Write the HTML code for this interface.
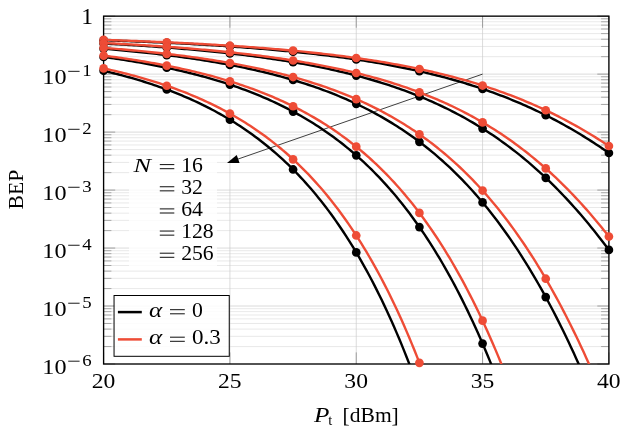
<!DOCTYPE html>
<html><head><meta charset="utf-8"><title>BEP</title>
<style>html,body{margin:0;padding:0;background:#fff}svg{display:block;will-change:transform}text{font-family:"Liberation Serif",serif;fill:#000}</style></head><body>
<svg width="630" height="435" viewBox="0 0 630 435">
<rect width="630" height="435" fill="#fff"/>
<defs><clipPath id="c"><rect x="103.60" y="16.15" width="505.30" height="347.85"/></clipPath></defs>
<path d="M103.60 56.67H608.90M103.60 46.46H608.90M103.60 39.22H608.90M103.60 33.60H608.90M103.60 29.01H608.90M103.60 25.13H608.90M103.60 21.77H608.90M103.60 18.80H608.90M103.60 114.65H608.90M103.60 104.44H608.90M103.60 97.20H608.90M103.60 91.58H608.90M103.60 86.99H608.90M103.60 83.11H608.90M103.60 79.74H608.90M103.60 76.78H608.90M103.60 172.62H608.90M103.60 162.41H608.90M103.60 155.17H608.90M103.60 149.55H608.90M103.60 144.96H608.90M103.60 141.08H608.90M103.60 137.72H608.90M103.60 134.75H608.90M103.60 230.60H608.90M103.60 220.39H608.90M103.60 213.15H608.90M103.60 207.53H608.90M103.60 202.94H608.90M103.60 199.06H608.90M103.60 195.69H608.90M103.60 192.73H608.90M103.60 288.57H608.90M103.60 278.36H608.90M103.60 271.12H608.90M103.60 265.50H608.90M103.60 260.91H608.90M103.60 257.03H608.90M103.60 253.67H608.90M103.60 250.70H608.90M103.60 346.55H608.90M103.60 336.34H608.90M103.60 329.10H608.90M103.60 323.48H608.90M103.60 318.89H608.90M103.60 315.01H608.90M103.60 311.64H608.90M103.60 308.68H608.90" stroke="#dfdfdf" stroke-width="0.7" fill="none"/>
<path d="M103.60 74.12H608.90M103.60 132.10H608.90M103.60 190.08H608.90M103.60 248.05H608.90M103.60 306.02H608.90M229.92 16.15V364.00M356.25 16.15V364.00M482.57 16.15V364.00" stroke="#cbcbcb" stroke-width="0.7" fill="none"/>
<path d="M103.60 56.67h7.8M608.90 56.67h-7.8M103.60 46.46h7.8M608.90 46.46h-7.8M103.60 39.22h7.8M608.90 39.22h-7.8M103.60 33.60h7.8M608.90 33.60h-7.8M103.60 29.01h7.8M608.90 29.01h-7.8M103.60 25.13h7.8M608.90 25.13h-7.8M103.60 21.77h7.8M608.90 21.77h-7.8M103.60 18.80h7.8M608.90 18.80h-7.8M103.60 114.65h7.8M608.90 114.65h-7.8M103.60 104.44h7.8M608.90 104.44h-7.8M103.60 97.20h7.8M608.90 97.20h-7.8M103.60 91.58h7.8M608.90 91.58h-7.8M103.60 86.99h7.8M608.90 86.99h-7.8M103.60 83.11h7.8M608.90 83.11h-7.8M103.60 79.74h7.8M608.90 79.74h-7.8M103.60 76.78h7.8M608.90 76.78h-7.8M103.60 172.62h7.8M608.90 172.62h-7.8M103.60 162.41h7.8M608.90 162.41h-7.8M103.60 155.17h7.8M608.90 155.17h-7.8M103.60 149.55h7.8M608.90 149.55h-7.8M103.60 144.96h7.8M608.90 144.96h-7.8M103.60 141.08h7.8M608.90 141.08h-7.8M103.60 137.72h7.8M608.90 137.72h-7.8M103.60 134.75h7.8M608.90 134.75h-7.8M103.60 230.60h7.8M608.90 230.60h-7.8M103.60 220.39h7.8M608.90 220.39h-7.8M103.60 213.15h7.8M608.90 213.15h-7.8M103.60 207.53h7.8M608.90 207.53h-7.8M103.60 202.94h7.8M608.90 202.94h-7.8M103.60 199.06h7.8M608.90 199.06h-7.8M103.60 195.69h7.8M608.90 195.69h-7.8M103.60 192.73h7.8M608.90 192.73h-7.8M103.60 288.57h7.8M608.90 288.57h-7.8M103.60 278.36h7.8M608.90 278.36h-7.8M103.60 271.12h7.8M608.90 271.12h-7.8M103.60 265.50h7.8M608.90 265.50h-7.8M103.60 260.91h7.8M608.90 260.91h-7.8M103.60 257.03h7.8M608.90 257.03h-7.8M103.60 253.67h7.8M608.90 253.67h-7.8M103.60 250.70h7.8M608.90 250.70h-7.8M103.60 346.55h7.8M608.90 346.55h-7.8M103.60 336.34h7.8M608.90 336.34h-7.8M103.60 329.10h7.8M608.90 329.10h-7.8M103.60 323.48h7.8M608.90 323.48h-7.8M103.60 318.89h7.8M608.90 318.89h-7.8M103.60 315.01h7.8M608.90 315.01h-7.8M103.60 311.64h7.8M608.90 311.64h-7.8M103.60 308.68h7.8M608.90 308.68h-7.8" stroke="#8a8a8a" stroke-width="0.7" fill="none"/>
<path d="M103.60 16.15h11.6M608.90 16.15h-11.6M103.60 74.12h11.6M608.90 74.12h-11.6M103.60 132.10h11.6M608.90 132.10h-11.6M103.60 190.08h11.6M608.90 190.08h-11.6M103.60 248.05h11.6M608.90 248.05h-11.6M103.60 306.02h11.6M608.90 306.02h-11.6M103.60 364.00h11.6M608.90 364.00h-11.6M103.60 16.15v11.6M103.60 364.00v-11.6M229.92 16.15v11.6M229.92 364.00v-11.6M356.25 16.15v11.6M356.25 364.00v-11.6M482.57 16.15v11.6M482.57 364.00v-11.6M608.90 16.15v11.6M608.90 364.00v-11.6" stroke="#808080" stroke-width="0.7" fill="none"/>
<rect x="129" y="156" width="88" height="110" fill="#fff" fill-opacity="0.8"/>
<path d="M482.57 74.12L236.26 159.68" stroke="#000" stroke-width="0.75" fill="none"/>
<path d="M227.00 162.90L236.74 154.97L239.56 163.09Z" fill="#000"/>
<rect x="103.60" y="16.15" width="505.30" height="347.85" fill="none" stroke="#000" stroke-width="1.35"/>
<path d="M103.60 40.23L106.13 40.32L108.65 40.41L111.18 40.49L113.71 40.58L116.23 40.67L118.76 40.76L121.29 40.86L123.81 40.95L126.34 41.05L128.87 41.14L131.39 41.24L133.92 41.34L136.44 41.44L138.97 41.54L141.50 41.65L144.02 41.75L146.55 41.86L149.08 41.97L151.60 42.08L154.13 42.19L156.66 42.30L159.18 42.41L161.71 42.53L164.24 42.65L166.76 42.77L169.29 42.89L171.82 43.01L174.34 43.14L176.87 43.26L179.40 43.39L181.92 43.52L184.45 43.65L186.97 43.79L189.50 43.92L192.03 44.06L194.55 44.20L197.08 44.34L199.61 44.49L202.13 44.63L204.66 44.78L207.19 44.93L209.71 45.09L212.24 45.24L214.77 45.40L217.29 45.56L219.82 45.72L222.35 45.89L224.87 46.05L227.40 46.22L229.93 46.40L232.45 46.57L234.98 46.75L237.50 46.93L240.03 47.11L242.56 47.30L245.08 47.49L247.61 47.68L250.14 47.87L252.66 48.07L255.19 48.27L257.72 48.48L260.24 48.68L262.77 48.89L265.30 49.11L267.82 49.32L270.35 49.54L272.88 49.77L275.40 49.99L277.93 50.22L280.46 50.46L282.98 50.69L285.51 50.94L288.03 51.18L290.56 51.43L293.09 51.68L295.61 51.94L298.14 52.20L300.67 52.47L303.19 52.73L305.72 53.01L308.25 53.29L310.77 53.57L313.30 53.86L315.83 54.15L318.35 54.44L320.88 54.74L323.41 55.05L325.93 55.36L328.46 55.68L330.99 56.00L333.51 56.32L336.04 56.65L338.56 56.99L341.09 57.33L343.62 57.68L346.14 58.03L348.67 58.39L351.20 58.76L353.72 59.13L356.25 59.50L358.78 59.89L361.30 60.28L363.83 60.67L366.36 61.07L368.88 61.48L371.41 61.90L373.94 62.32L376.46 62.75L378.99 63.19L381.52 63.63L384.04 64.08L386.57 64.54L389.09 65.00L391.62 65.48L394.15 65.96L396.67 66.45L399.20 66.95L401.73 67.45L404.25 67.97L406.78 68.49L409.31 69.02L411.83 69.56L414.36 70.11L416.89 70.67L419.41 71.23L421.94 71.81L424.47 72.40L426.99 72.99L429.52 73.60L432.05 74.21L434.57 74.84L437.10 75.48L439.62 76.12L442.15 76.78L444.68 77.45L447.20 78.13L449.73 78.82L452.26 79.52L454.78 80.24L457.31 80.96L459.84 81.70L462.36 82.45L464.89 83.21L467.42 83.98L469.94 84.77L472.47 85.57L475.00 86.38L477.52 87.21L480.05 88.05L482.58 88.90L485.10 89.77L487.63 90.65L490.15 91.55L492.68 92.46L495.21 93.38L497.73 94.32L500.26 95.27L502.79 96.24L505.31 97.23L507.84 98.22L510.37 99.24L512.89 100.27L515.42 101.32L517.95 102.38L520.47 103.46L523.00 104.56L525.53 105.68L528.05 106.81L530.58 107.96L533.11 109.12L535.63 110.31L538.16 111.51L540.68 112.73L543.21 113.96L545.74 115.22L548.26 116.49L550.79 117.79L553.32 119.10L555.84 120.43L558.37 121.78L560.90 123.15L563.42 124.54L565.95 125.95L568.48 127.38L571.00 128.82L573.53 130.29L576.06 131.78L578.58 133.29L581.11 134.81L583.64 136.36L586.16 137.93L588.69 139.52L591.21 141.13L593.74 142.76L596.27 144.41L598.79 146.09L601.32 147.78L603.85 149.49L606.37 151.23L608.90 152.98" stroke="#000000" stroke-width="2.40" fill="none" stroke-linejoin="round" clip-path="url(#c)"/>
<circle cx="103.60" cy="40.23" r="4.35" fill="#000000"/>
<circle cx="166.76" cy="42.77" r="4.35" fill="#000000"/>
<circle cx="229.92" cy="46.40" r="4.35" fill="#000000"/>
<circle cx="293.09" cy="51.68" r="4.35" fill="#000000"/>
<circle cx="356.25" cy="59.50" r="4.35" fill="#000000"/>
<circle cx="419.41" cy="71.23" r="4.35" fill="#000000"/>
<circle cx="482.57" cy="88.90" r="4.35" fill="#000000"/>
<circle cx="545.74" cy="115.22" r="4.35" fill="#000000"/>
<circle cx="608.90" cy="152.98" r="4.35" fill="#000000"/>
<path d="M103.60 39.90L106.13 39.98L108.65 40.06L111.18 40.15L113.71 40.23L116.23 40.32L118.76 40.40L121.29 40.49L123.81 40.58L126.34 40.67L128.87 40.76L131.39 40.85L133.92 40.95L136.44 41.04L138.97 41.14L141.50 41.24L144.02 41.34L146.55 41.44L149.08 41.54L151.60 41.64L154.13 41.75L156.66 41.85L159.18 41.96L161.71 42.07L164.24 42.18L166.76 42.29L169.29 42.41L171.82 42.53L174.34 42.64L176.87 42.76L179.40 42.88L181.92 43.01L184.45 43.13L186.97 43.26L189.50 43.39L192.03 43.52L194.55 43.65L197.08 43.78L199.61 43.92L202.13 44.06L204.66 44.20L207.19 44.34L209.71 44.48L212.24 44.63L214.77 44.78L217.29 44.93L219.82 45.08L222.35 45.24L224.87 45.39L227.40 45.55L229.93 45.72L232.45 45.88L234.98 46.05L237.50 46.22L240.03 46.39L242.56 46.56L245.08 46.74L247.61 46.92L250.14 47.11L252.66 47.29L255.19 47.48L257.72 47.67L260.24 47.87L262.77 48.06L265.30 48.26L267.82 48.47L270.35 48.67L272.88 48.88L275.40 49.10L277.93 49.31L280.46 49.53L282.98 49.76L285.51 49.98L288.03 50.21L290.56 50.45L293.09 50.68L295.61 50.93L298.14 51.17L300.67 51.42L303.19 51.67L305.72 51.93L308.25 52.19L310.77 52.45L313.30 52.72L315.83 53.00L318.35 53.27L320.88 53.56L323.41 53.84L325.93 54.14L328.46 54.43L330.99 54.73L333.51 55.04L336.04 55.35L338.56 55.66L341.09 55.98L343.62 56.31L346.14 56.64L348.67 56.98L351.20 57.32L353.72 57.67L356.25 58.02L358.78 58.38L361.30 58.74L363.83 59.11L366.36 59.49L368.88 59.87L371.41 60.26L373.94 60.66L376.46 61.06L378.99 61.47L381.52 61.88L384.04 62.30L386.57 62.73L389.09 63.17L391.62 63.61L394.15 64.06L396.67 64.52L399.20 64.99L401.73 65.46L404.25 65.94L406.78 66.43L409.31 66.93L411.83 67.43L414.36 67.94L416.89 68.47L419.41 69.00L421.94 69.54L424.47 70.09L426.99 70.64L429.52 71.21L432.05 71.79L434.57 72.37L437.10 72.97L439.62 73.57L442.15 74.19L444.68 74.81L447.20 75.45L449.73 76.10L452.26 76.75L454.78 77.42L457.31 78.10L459.84 78.79L462.36 79.49L464.89 80.21L467.42 80.93L469.94 81.67L472.47 82.42L475.00 83.18L477.52 83.95L480.05 84.74L482.58 85.54L485.10 86.35L487.63 87.18L490.15 88.02L492.68 88.87L495.21 89.73L497.73 90.61L500.26 91.51L502.79 92.42L505.31 93.34L507.84 94.28L510.37 95.23L512.89 96.20L515.42 97.19L517.95 98.18L520.47 99.20L523.00 100.23L525.53 101.28L528.05 102.34L530.58 103.42L533.11 104.52L535.63 105.63L538.16 106.76L540.68 107.91L543.21 109.07L545.74 110.26L548.26 111.46L550.79 112.68L553.32 113.91L555.84 115.17L558.37 116.44L560.90 117.74L563.42 119.05L565.95 120.38L568.48 121.73L571.00 123.09L573.53 124.48L576.06 125.89L578.58 127.32L581.11 128.76L583.64 130.23L586.16 131.72L588.69 133.23L591.21 134.75L593.74 136.30L596.27 137.87L598.79 139.46L601.32 141.07L603.85 142.70L606.37 144.35L608.90 146.02" stroke="#ee4c36" stroke-width="2.40" fill="none" stroke-linejoin="round" clip-path="url(#c)"/>
<circle cx="103.60" cy="39.90" r="4.35" fill="#ee4c36"/>
<circle cx="166.76" cy="42.29" r="4.35" fill="#ee4c36"/>
<circle cx="229.92" cy="45.72" r="4.35" fill="#ee4c36"/>
<circle cx="293.09" cy="50.68" r="4.35" fill="#ee4c36"/>
<circle cx="356.25" cy="58.02" r="4.35" fill="#ee4c36"/>
<circle cx="419.41" cy="69.00" r="4.35" fill="#ee4c36"/>
<circle cx="482.57" cy="85.54" r="4.35" fill="#ee4c36"/>
<circle cx="545.74" cy="110.26" r="4.35" fill="#ee4c36"/>
<circle cx="608.90" cy="146.02" r="4.35" fill="#ee4c36"/>
<path d="M103.60 43.53L106.13 43.66L108.65 43.80L111.18 43.93L113.71 44.07L116.23 44.21L118.76 44.36L121.29 44.50L123.81 44.65L126.34 44.80L128.87 44.95L131.39 45.10L133.92 45.26L136.44 45.42L138.97 45.58L141.50 45.74L144.02 45.91L146.55 46.08L149.08 46.25L151.60 46.42L154.13 46.60L156.66 46.77L159.18 46.96L161.71 47.14L164.24 47.33L166.76 47.52L169.29 47.71L171.82 47.91L174.34 48.11L176.87 48.31L179.40 48.51L181.92 48.72L184.45 48.93L186.97 49.15L189.50 49.37L192.03 49.59L194.55 49.81L197.08 50.04L199.61 50.28L202.13 50.51L204.66 50.75L207.19 51.00L209.71 51.24L212.24 51.50L214.77 51.75L217.29 52.01L219.82 52.28L222.35 52.54L224.87 52.82L227.40 53.09L229.93 53.38L232.45 53.66L234.98 53.95L237.50 54.25L240.03 54.55L242.56 54.86L245.08 55.17L247.61 55.48L250.14 55.80L252.66 56.13L255.19 56.46L257.72 56.80L260.24 57.14L262.77 57.49L265.30 57.84L267.82 58.20L270.35 58.57L272.88 58.94L275.40 59.32L277.93 59.71L280.46 60.10L282.98 60.49L285.51 60.90L288.03 61.31L290.56 61.73L293.09 62.16L295.61 62.59L298.14 63.03L300.67 63.48L303.19 63.93L305.72 64.40L308.25 64.87L310.77 65.35L313.30 65.84L315.83 66.33L318.35 66.84L320.88 67.35L323.41 67.87L325.93 68.41L328.46 68.95L330.99 69.50L333.51 70.06L336.04 70.63L338.56 71.21L341.09 71.80L343.62 72.40L346.14 73.01L348.67 73.63L351.20 74.26L353.72 74.91L356.25 75.56L358.78 76.23L361.30 76.91L363.83 77.60L366.36 78.30L368.88 79.02L371.41 79.74L373.94 80.48L376.46 81.24L378.99 82.00L381.52 82.79L384.04 83.58L386.57 84.39L389.09 85.21L391.62 86.05L394.15 86.90L396.67 87.77L399.20 88.66L401.73 89.56L404.25 90.47L406.78 91.40L409.31 92.35L411.83 93.32L414.36 94.30L416.89 95.30L419.41 96.32L421.94 97.35L424.47 98.41L426.99 99.48L429.52 100.57L432.05 101.68L434.57 102.82L437.10 103.97L439.62 105.14L442.15 106.33L444.68 107.55L447.20 108.78L449.73 110.04L452.26 111.32L454.78 112.62L457.31 113.95L459.84 115.30L462.36 116.67L464.89 118.06L467.42 119.49L469.94 120.93L472.47 122.40L475.00 123.90L477.52 125.42L480.05 126.97L482.58 128.55L485.10 130.15L487.63 131.78L490.15 133.44L492.68 135.12L495.21 136.84L497.73 138.58L500.26 140.36L502.79 142.16L505.31 144.00L507.84 145.86L510.37 147.76L512.89 149.69L515.42 151.65L517.95 153.64L520.47 155.67L523.00 157.72L525.53 159.82L528.05 161.94L530.58 164.10L533.11 166.30L535.63 168.53L538.16 170.79L540.68 173.10L543.21 175.43L545.74 177.81L548.26 180.22L550.79 182.67L553.32 185.16L555.84 187.68L558.37 190.24L560.90 192.84L563.42 195.48L565.95 198.16L568.48 200.88L571.00 203.64L573.53 206.44L576.06 209.27L578.58 212.15L581.11 215.07L583.64 218.03L586.16 221.03L588.69 224.07L591.21 227.16L593.74 230.28L596.27 233.45L598.79 236.65L601.32 239.90L603.85 243.19L606.37 246.53L608.90 249.90" stroke="#000000" stroke-width="2.40" fill="none" stroke-linejoin="round" clip-path="url(#c)"/>
<circle cx="103.60" cy="43.53" r="4.35" fill="#000000"/>
<circle cx="166.76" cy="47.52" r="4.35" fill="#000000"/>
<circle cx="229.92" cy="53.38" r="4.35" fill="#000000"/>
<circle cx="293.09" cy="62.16" r="4.35" fill="#000000"/>
<circle cx="356.25" cy="75.56" r="4.35" fill="#000000"/>
<circle cx="419.41" cy="96.32" r="4.35" fill="#000000"/>
<circle cx="482.57" cy="128.55" r="4.35" fill="#000000"/>
<circle cx="545.74" cy="177.81" r="4.35" fill="#000000"/>
<circle cx="608.90" cy="249.90" r="4.35" fill="#000000"/>
<path d="M103.60 43.01L106.13 43.14L108.65 43.27L111.18 43.39L113.71 43.52L116.23 43.66L118.76 43.79L121.29 43.93L123.81 44.07L126.34 44.21L128.87 44.35L131.39 44.49L133.92 44.64L136.44 44.79L138.97 44.94L141.50 45.10L144.02 45.25L146.55 45.41L149.08 45.57L151.60 45.73L154.13 45.90L156.66 46.07L159.18 46.24L161.71 46.41L164.24 46.59L166.76 46.77L169.29 46.95L171.82 47.13L174.34 47.32L176.87 47.51L179.40 47.70L181.92 47.90L184.45 48.10L186.97 48.30L189.50 48.50L192.03 48.71L194.55 48.92L197.08 49.14L199.61 49.36L202.13 49.58L204.66 49.81L207.19 50.03L209.71 50.27L212.24 50.50L214.77 50.74L217.29 50.99L219.82 51.23L222.35 51.49L224.87 51.74L227.40 52.00L229.93 52.27L232.45 52.53L234.98 52.81L237.50 53.08L240.03 53.36L242.56 53.65L245.08 53.94L247.61 54.24L250.14 54.54L252.66 54.84L255.19 55.15L257.72 55.47L260.24 55.79L262.77 56.12L265.30 56.45L267.82 56.78L270.35 57.13L272.88 57.47L275.40 57.83L277.93 58.19L280.46 58.55L282.98 58.93L285.51 59.30L288.03 59.69L290.56 60.08L293.09 60.48L295.61 60.88L298.14 61.29L300.67 61.71L303.19 62.14L305.72 62.57L308.25 63.01L310.77 63.46L313.30 63.92L315.83 64.38L318.35 64.85L320.88 65.33L323.41 65.82L325.93 66.31L328.46 66.82L330.99 67.33L333.51 67.85L336.04 68.38L338.56 68.93L341.09 69.48L343.62 70.04L346.14 70.60L348.67 71.18L351.20 71.77L353.72 72.37L356.25 72.98L358.78 73.61L361.30 74.24L363.83 74.88L366.36 75.54L368.88 76.20L371.41 76.88L373.94 77.57L376.46 78.27L378.99 78.99L381.52 79.71L384.04 80.45L386.57 81.21L389.09 81.97L391.62 82.75L394.15 83.55L396.67 84.36L399.20 85.18L401.73 86.02L404.25 86.87L406.78 87.74L409.31 88.62L411.83 89.52L414.36 90.43L416.89 91.36L419.41 92.31L421.94 93.28L424.47 94.26L426.99 95.26L429.52 96.28L432.05 97.31L434.57 98.36L437.10 99.44L439.62 100.53L442.15 101.64L444.68 102.77L447.20 103.92L449.73 105.09L452.26 106.29L454.78 107.50L457.31 108.73L459.84 109.99L462.36 111.27L464.89 112.57L467.42 113.89L469.94 115.24L472.47 116.61L475.00 118.01L477.52 119.43L480.05 120.87L482.58 122.34L485.10 123.84L487.63 125.36L490.15 126.91L492.68 128.48L495.21 130.08L497.73 131.71L500.26 133.37L502.79 135.06L505.31 136.77L507.84 138.51L510.37 140.29L512.89 142.09L515.42 143.92L517.95 145.79L520.47 147.68L523.00 149.61L525.53 151.57L528.05 153.56L530.58 155.58L533.11 157.64L535.63 159.73L538.16 161.86L540.68 164.02L543.21 166.21L545.74 168.44L548.26 170.70L550.79 173.00L553.32 175.34L555.84 177.71L558.37 180.12L560.90 182.57L563.42 185.06L565.95 187.58L568.48 190.14L571.00 192.74L573.53 195.38L576.06 198.05L578.58 200.77L581.11 203.53L583.64 206.32L586.16 209.16L588.69 212.04L591.21 214.95L593.74 217.91L596.27 220.91L598.79 223.95L601.32 227.03L603.85 230.16L606.37 233.32L608.90 236.53" stroke="#ee4c36" stroke-width="2.40" fill="none" stroke-linejoin="round" clip-path="url(#c)"/>
<circle cx="103.60" cy="43.01" r="4.35" fill="#ee4c36"/>
<circle cx="166.76" cy="46.77" r="4.35" fill="#ee4c36"/>
<circle cx="229.92" cy="52.27" r="4.35" fill="#ee4c36"/>
<circle cx="293.09" cy="60.48" r="4.35" fill="#ee4c36"/>
<circle cx="356.25" cy="72.98" r="4.35" fill="#ee4c36"/>
<circle cx="419.41" cy="92.31" r="4.35" fill="#ee4c36"/>
<circle cx="482.57" cy="122.34" r="4.35" fill="#ee4c36"/>
<circle cx="545.74" cy="168.44" r="4.35" fill="#ee4c36"/>
<circle cx="608.90" cy="236.53" r="4.35" fill="#ee4c36"/>
<path d="M103.60 48.67L106.13 48.89L108.65 49.10L111.18 49.32L113.71 49.54L116.23 49.77L118.76 50.00L121.29 50.23L123.81 50.47L126.34 50.71L128.87 50.95L131.39 51.20L133.92 51.45L136.44 51.71L138.97 51.97L141.50 52.23L144.02 52.50L146.55 52.77L149.08 53.05L151.60 53.33L154.13 53.62L156.66 53.91L159.18 54.21L161.71 54.51L164.24 54.81L166.76 55.13L169.29 55.44L171.82 55.76L174.34 56.09L176.87 56.42L179.40 56.76L181.92 57.11L184.45 57.46L186.97 57.81L189.50 58.17L192.03 58.54L194.55 58.92L197.08 59.30L199.61 59.68L202.13 60.08L204.66 60.48L207.19 60.89L209.71 61.30L212.24 61.72L214.77 62.15L217.29 62.59L219.82 63.03L222.35 63.48L224.87 63.94L227.40 64.41L229.93 64.89L232.45 65.37L234.98 65.86L237.50 66.36L240.03 66.87L242.56 67.39L245.08 67.92L247.61 68.46L250.14 69.01L252.66 69.57L255.19 70.13L257.72 70.71L260.24 71.30L262.77 71.90L265.30 72.51L267.82 73.13L270.35 73.76L272.88 74.40L275.40 75.06L277.93 75.72L280.46 76.40L282.98 77.09L285.51 77.80L288.03 78.51L290.56 79.24L293.09 79.99L295.61 80.74L298.14 81.51L300.67 82.30L303.19 83.10L305.72 83.91L308.25 84.74L310.77 85.59L313.30 86.45L315.83 87.32L318.35 88.22L320.88 89.13L323.41 90.05L325.93 91.00L328.46 91.96L330.99 92.94L333.51 93.94L336.04 94.95L338.56 95.99L341.09 97.04L343.62 98.12L346.14 99.21L348.67 100.33L351.20 101.47L353.72 102.62L356.25 103.80L358.78 105.01L361.30 106.23L363.83 107.48L366.36 108.75L368.88 110.05L371.41 111.37L373.94 112.72L376.46 114.09L378.99 115.49L381.52 116.91L384.04 118.36L386.57 119.84L389.09 121.35L391.62 122.88L394.15 124.45L396.67 126.04L399.20 127.67L401.73 129.32L404.25 131.01L406.78 132.73L409.31 134.48L411.83 136.27L414.36 138.09L416.89 139.94L419.41 141.83L421.94 143.75L424.47 145.71L426.99 147.71L429.52 149.74L432.05 151.82L434.57 153.93L437.10 156.08L439.62 158.28L442.15 160.51L444.68 162.79L447.20 165.10L449.73 167.47L452.26 169.87L454.78 172.32L457.31 174.82L459.84 177.36L462.36 179.95L464.89 182.59L467.42 185.27L469.94 188.01L472.47 190.79L475.00 193.63L477.52 196.52L480.05 199.46L482.58 202.45L485.10 205.50L487.63 208.60L490.15 211.76L492.68 214.98L495.21 218.25L497.73 221.58L500.26 224.97L502.79 228.42L505.31 231.94L507.84 235.51L510.37 239.14L512.89 242.84L515.42 246.61L517.95 250.43L520.47 254.33L523.00 258.29L525.53 262.31L528.05 266.41L530.58 270.57L533.11 274.81L535.63 279.11L538.16 283.49L540.68 287.93L543.21 292.45L545.74 297.05L548.26 301.71L550.79 306.46L553.32 311.27L555.84 316.17L558.37 321.14L560.90 326.19L563.42 331.31L565.95 336.52L568.48 341.80L571.00 347.16L573.53 352.61L576.06 358.13L578.58 363.74L581.11 369.42L583.64 375.19L586.16 381.04L588.69 386.97L591.21 392.99L593.74 399.09L596.27 405.27" stroke="#000000" stroke-width="2.40" fill="none" stroke-linejoin="round" clip-path="url(#c)"/>
<circle cx="103.60" cy="48.67" r="4.35" fill="#000000"/>
<circle cx="166.76" cy="55.13" r="4.35" fill="#000000"/>
<circle cx="229.92" cy="64.89" r="4.35" fill="#000000"/>
<circle cx="293.09" cy="79.99" r="4.35" fill="#000000"/>
<circle cx="356.25" cy="103.80" r="4.35" fill="#000000"/>
<circle cx="419.41" cy="141.83" r="4.35" fill="#000000"/>
<circle cx="482.57" cy="202.45" r="4.35" fill="#000000"/>
<circle cx="545.74" cy="297.05" r="4.35" fill="#000000"/>
<path d="M103.60 47.84L106.13 48.04L108.65 48.24L111.18 48.45L113.71 48.66L116.23 48.87L118.76 49.08L121.29 49.30L123.81 49.52L126.34 49.75L128.87 49.98L131.39 50.21L133.92 50.44L136.44 50.68L138.97 50.93L141.50 51.17L144.02 51.43L146.55 51.68L149.08 51.94L151.60 52.21L154.13 52.47L156.66 52.75L159.18 53.02L161.71 53.31L164.24 53.59L166.76 53.88L169.29 54.18L171.82 54.48L174.34 54.79L176.87 55.10L179.40 55.41L181.92 55.73L184.45 56.06L186.97 56.39L189.50 56.73L192.03 57.08L194.55 57.42L197.08 57.78L199.61 58.14L202.13 58.51L204.66 58.88L207.19 59.26L209.71 59.65L212.24 60.04L214.77 60.44L217.29 60.85L219.82 61.26L222.35 61.68L224.87 62.11L227.40 62.55L229.93 62.99L232.45 63.44L234.98 63.90L237.50 64.37L240.03 64.84L242.56 65.33L245.08 65.82L247.61 66.32L250.14 66.83L252.66 67.35L255.19 67.87L257.72 68.41L260.24 68.96L262.77 69.52L265.30 70.08L267.82 70.66L270.35 71.25L272.88 71.84L275.40 72.45L277.93 73.07L280.46 73.70L282.98 74.34L285.51 75.00L288.03 75.66L290.56 76.34L293.09 77.03L295.61 77.73L298.14 78.45L300.67 79.18L303.19 79.92L305.72 80.67L308.25 81.44L310.77 82.23L313.30 83.03L315.83 83.84L318.35 84.67L320.88 85.51L323.41 86.37L325.93 87.24L328.46 88.14L330.99 89.04L333.51 89.97L336.04 90.91L338.56 91.87L341.09 92.85L343.62 93.84L346.14 94.86L348.67 95.89L351.20 96.95L353.72 98.02L356.25 99.11L358.78 100.23L361.30 101.36L363.83 102.52L366.36 103.70L368.88 104.90L371.41 106.12L373.94 107.37L376.46 108.64L378.99 109.93L381.52 111.25L384.04 112.60L386.57 113.96L389.09 115.36L391.62 116.78L394.15 118.23L396.67 119.71L399.20 121.21L401.73 122.74L404.25 124.31L406.78 125.90L409.31 127.52L411.83 129.17L414.36 130.86L416.89 132.57L419.41 134.32L421.94 136.11L424.47 137.92L426.99 139.77L429.52 141.66L432.05 143.58L434.57 145.53L437.10 147.53L439.62 149.56L442.15 151.63L444.68 153.74L447.20 155.89L449.73 158.08L452.26 160.31L454.78 162.58L457.31 164.89L459.84 167.25L462.36 169.65L464.89 172.10L467.42 174.59L469.94 177.13L472.47 179.71L475.00 182.35L477.52 185.03L480.05 187.76L482.58 190.54L485.10 193.37L487.63 196.26L490.15 199.19L492.68 202.18L495.21 205.22L497.73 208.32L500.26 211.48L502.79 214.69L505.31 217.95L507.84 221.28L510.37 224.67L512.89 228.11L515.42 231.62L517.95 235.18L520.47 238.81L523.00 242.51L525.53 246.26L528.05 250.09L530.58 253.97L533.11 257.93L535.63 261.95L538.16 266.04L540.68 270.19L543.21 274.42L545.74 278.72L548.26 283.09L550.79 287.53L553.32 292.04L555.84 296.63L558.37 301.29L560.90 306.03L563.42 310.84L565.95 315.72L568.48 320.69L571.00 325.73L573.53 330.85L576.06 336.04L578.58 341.32L581.11 346.68L583.64 352.11L586.16 357.63L588.69 363.23L591.21 368.91L593.74 374.67L596.27 380.51L598.79 386.44L601.32 392.45L603.85 398.54L606.37 404.71" stroke="#ee4c36" stroke-width="2.40" fill="none" stroke-linejoin="round" clip-path="url(#c)"/>
<circle cx="103.60" cy="47.84" r="4.35" fill="#ee4c36"/>
<circle cx="166.76" cy="53.88" r="4.35" fill="#ee4c36"/>
<circle cx="229.92" cy="62.99" r="4.35" fill="#ee4c36"/>
<circle cx="293.09" cy="77.03" r="4.35" fill="#ee4c36"/>
<circle cx="356.25" cy="99.11" r="4.35" fill="#ee4c36"/>
<circle cx="419.41" cy="134.32" r="4.35" fill="#ee4c36"/>
<circle cx="482.57" cy="190.54" r="4.35" fill="#ee4c36"/>
<circle cx="545.74" cy="278.72" r="4.35" fill="#ee4c36"/>
<path d="M103.60 56.97L106.13 57.32L108.65 57.67L111.18 58.03L113.71 58.40L116.23 58.77L118.76 59.15L121.29 59.53L123.81 59.93L126.34 60.33L128.87 60.73L131.39 61.15L133.92 61.57L136.44 61.99L138.97 62.43L141.50 62.87L144.02 63.32L146.55 63.78L149.08 64.25L151.60 64.72L154.13 65.21L156.66 65.70L159.18 66.20L161.71 66.71L164.24 67.23L166.76 67.76L169.29 68.29L171.82 68.84L174.34 69.40L176.87 69.97L179.40 70.54L181.92 71.13L184.45 71.73L186.97 72.34L189.50 72.96L192.03 73.59L194.55 74.24L197.08 74.89L199.61 75.56L202.13 76.24L204.66 76.94L207.19 77.64L209.71 78.36L212.24 79.09L214.77 79.84L217.29 80.60L219.82 81.37L222.35 82.16L224.87 82.96L227.40 83.78L229.93 84.62L232.45 85.47L234.98 86.33L237.50 87.22L240.03 88.11L242.56 89.03L245.08 89.96L247.61 90.92L250.14 91.89L252.66 92.87L255.19 93.88L257.72 94.91L260.24 95.95L262.77 97.02L265.30 98.11L267.82 99.22L270.35 100.35L272.88 101.50L275.40 102.67L277.93 103.87L280.46 105.09L282.98 106.33L285.51 107.60L288.03 108.90L290.56 110.21L293.09 111.56L295.61 112.93L298.14 114.33L300.67 115.75L303.19 117.21L305.72 118.69L308.25 120.20L310.77 121.74L313.30 123.31L315.83 124.91L318.35 126.55L320.88 128.22L323.41 129.92L325.93 131.65L328.46 133.42L330.99 135.22L333.51 137.06L336.04 138.93L338.56 140.85L341.09 142.80L343.62 144.79L346.14 146.82L348.67 148.89L351.20 151.00L353.72 153.15L356.25 155.35L358.78 157.59L361.30 159.88L363.83 162.21L366.36 164.58L368.88 167.01L371.41 169.48L373.94 172.00L376.46 174.58L378.99 177.20L381.52 179.88L384.04 182.61L386.57 185.39L389.09 188.23L391.62 191.13L394.15 194.08L396.67 197.10L399.20 200.17L401.73 203.30L404.25 206.50L406.78 209.76L409.31 213.08L411.83 216.47L414.36 219.93L416.89 223.45L419.41 227.05L421.94 230.71L424.47 234.45L426.99 238.26L429.52 242.15L432.05 246.11L434.57 250.15L437.10 254.27L439.62 258.47L442.15 262.75L444.68 267.11L447.20 271.56L449.73 276.10L452.26 280.72L454.78 285.43L457.31 290.23L459.84 295.13L462.36 300.11L464.89 305.20L467.42 310.37L469.94 315.65L472.47 321.03L475.00 326.51L477.52 332.09L480.05 337.77L482.58 343.57L485.10 349.47L487.63 355.48L490.15 361.60L492.68 367.83L495.21 374.18L497.73 380.64L500.26 387.22L502.79 393.92L505.31 400.74L507.84 407.69" stroke="#000000" stroke-width="2.40" fill="none" stroke-linejoin="round" clip-path="url(#c)"/>
<circle cx="103.60" cy="56.97" r="4.35" fill="#000000"/>
<circle cx="166.76" cy="67.76" r="4.35" fill="#000000"/>
<circle cx="229.92" cy="84.62" r="4.35" fill="#000000"/>
<circle cx="293.09" cy="111.56" r="4.35" fill="#000000"/>
<circle cx="356.25" cy="155.35" r="4.35" fill="#000000"/>
<circle cx="419.41" cy="227.05" r="4.35" fill="#000000"/>
<circle cx="482.57" cy="343.57" r="4.35" fill="#000000"/>
<path d="M103.60 55.61L106.13 55.94L108.65 56.27L111.18 56.60L113.71 56.95L116.23 57.29L118.76 57.65L121.29 58.01L123.81 58.37L126.34 58.75L128.87 59.13L131.39 59.51L133.92 59.90L136.44 60.30L138.97 60.71L141.50 61.12L144.02 61.54L146.55 61.97L149.08 62.40L151.60 62.85L154.13 63.30L156.66 63.75L159.18 64.22L161.71 64.69L164.24 65.18L166.76 65.67L169.29 66.17L171.82 66.68L174.34 67.20L176.87 67.72L179.40 68.26L181.92 68.81L184.45 69.37L186.97 69.93L189.50 70.51L192.03 71.10L194.55 71.70L197.08 72.30L199.61 72.92L202.13 73.56L204.66 74.20L207.19 74.85L209.71 75.52L212.24 76.20L214.77 76.89L217.29 77.60L219.82 78.32L222.35 79.05L224.87 79.79L227.40 80.55L229.93 81.33L232.45 82.11L234.98 82.92L237.50 83.73L240.03 84.57L242.56 85.42L245.08 86.28L247.61 87.16L250.14 88.06L252.66 88.98L255.19 89.91L257.72 90.86L260.24 91.83L262.77 92.81L265.30 93.82L267.82 94.85L270.35 95.89L272.88 96.96L275.40 98.04L277.93 99.15L280.46 100.28L282.98 101.43L285.51 102.60L288.03 103.80L290.56 105.02L293.09 106.26L295.61 107.53L298.14 108.82L300.67 110.13L303.19 111.48L305.72 112.85L308.25 114.24L310.77 115.67L313.30 117.12L315.83 118.60L318.35 120.11L320.88 121.65L323.41 123.22L325.93 124.82L328.46 126.45L330.99 128.11L333.51 129.81L336.04 131.54L338.56 133.31L341.09 135.11L343.62 136.95L346.14 138.82L348.67 140.73L351.20 142.68L353.72 144.67L356.25 146.70L358.78 148.76L361.30 150.87L363.83 153.02L366.36 155.22L368.88 157.45L371.41 159.74L373.94 162.06L376.46 164.44L378.99 166.86L381.52 169.33L384.04 171.85L386.57 174.42L389.09 177.04L391.62 179.72L394.15 182.44L396.67 185.22L399.20 188.06L401.73 190.95L404.25 193.90L406.78 196.91L409.31 199.98L411.83 203.11L414.36 206.30L416.89 209.56L419.41 212.88L421.94 216.27L424.47 219.72L426.99 223.24L429.52 226.83L432.05 230.49L434.57 234.23L437.10 238.03L439.62 241.91L442.15 245.87L444.68 249.91L447.20 254.02L449.73 258.22L452.26 262.49L454.78 266.85L457.31 271.29L459.84 275.82L462.36 280.44L464.89 285.15L467.42 289.94L469.94 294.83L472.47 299.81L475.00 304.89L477.52 310.06L480.05 315.33L482.58 320.70L485.10 326.18L487.63 331.75L490.15 337.43L492.68 343.22L495.21 349.11L497.73 355.11L500.26 361.23L502.79 367.45L505.31 373.79L507.84 380.25L510.37 386.82L512.89 393.52L515.42 400.33L517.95 407.27" stroke="#ee4c36" stroke-width="2.40" fill="none" stroke-linejoin="round" clip-path="url(#c)"/>
<circle cx="103.60" cy="55.61" r="4.35" fill="#ee4c36"/>
<circle cx="166.76" cy="65.67" r="4.35" fill="#ee4c36"/>
<circle cx="229.92" cy="81.33" r="4.35" fill="#ee4c36"/>
<circle cx="293.09" cy="106.26" r="4.35" fill="#ee4c36"/>
<circle cx="356.25" cy="146.70" r="4.35" fill="#ee4c36"/>
<circle cx="419.41" cy="212.88" r="4.35" fill="#ee4c36"/>
<circle cx="482.57" cy="320.70" r="4.35" fill="#ee4c36"/>
<path d="M103.60 70.78L106.13 71.38L108.65 71.98L111.18 72.60L113.71 73.23L116.23 73.86L118.76 74.52L121.29 75.18L123.81 75.85L126.34 76.54L128.87 77.24L131.39 77.96L133.92 78.69L136.44 79.43L138.97 80.18L141.50 80.95L144.02 81.74L146.55 82.53L149.08 83.35L151.60 84.18L154.13 85.02L156.66 85.88L159.18 86.76L161.71 87.66L164.24 88.57L166.76 89.50L169.29 90.45L171.82 91.41L174.34 92.40L176.87 93.40L179.40 94.43L181.92 95.47L184.45 96.53L186.97 97.62L189.50 98.72L192.03 99.85L194.55 101.00L197.08 102.17L199.61 103.37L202.13 104.59L204.66 105.83L207.19 107.10L209.71 108.39L212.24 109.71L214.77 111.06L217.29 112.43L219.82 113.83L222.35 115.26L224.87 116.71L227.40 118.20L229.93 119.71L232.45 121.26L234.98 122.84L237.50 124.44L240.03 126.09L242.56 127.76L245.08 129.47L247.61 131.21L250.14 132.99L252.66 134.81L255.19 136.66L257.72 138.55L260.24 140.48L262.77 142.45L265.30 144.45L267.82 146.50L270.35 148.60L272.88 150.73L275.40 152.91L277.93 155.13L280.46 157.40L282.98 159.72L285.51 162.08L288.03 164.49L290.56 166.95L293.09 169.47L295.61 172.03L298.14 174.65L300.67 177.32L303.19 180.05L305.72 182.83L308.25 185.68L310.77 188.58L313.30 191.54L315.83 194.56L318.35 197.65L320.88 200.80L323.41 204.01L325.93 207.29L328.46 210.65L330.99 214.07L333.51 217.56L336.04 221.12L338.56 224.76L341.09 228.47L343.62 232.27L346.14 236.14L348.67 240.09L351.20 244.12L353.72 248.24L356.25 252.44L358.78 256.73L361.30 261.11L363.83 265.58L366.36 270.15L368.88 274.80L371.41 279.56L373.94 284.41L376.46 289.37L378.99 294.42L381.52 299.59L384.04 304.86L386.57 310.23L389.09 315.72L391.62 321.32L394.15 327.04L396.67 332.88L399.20 338.83L401.73 344.91L404.25 351.11L406.78 357.44L409.31 363.90L411.83 370.50L414.36 377.22L416.89 384.09L419.41 391.09L421.94 398.24L424.47 405.53" stroke="#000000" stroke-width="2.40" fill="none" stroke-linejoin="round" clip-path="url(#c)"/>
<circle cx="103.60" cy="70.78" r="4.35" fill="#000000"/>
<circle cx="166.76" cy="89.50" r="4.35" fill="#000000"/>
<circle cx="229.92" cy="119.71" r="4.35" fill="#000000"/>
<circle cx="293.09" cy="169.47" r="4.35" fill="#000000"/>
<circle cx="356.25" cy="252.44" r="4.35" fill="#000000"/>
<path d="M103.60 68.42L106.13 68.97L108.65 69.53L111.18 70.10L113.71 70.68L116.23 71.27L118.76 71.88L121.29 72.49L123.81 73.12L126.34 73.76L128.87 74.40L131.39 75.07L133.92 75.74L136.44 76.42L138.97 77.12L141.50 77.84L144.02 78.56L146.55 79.30L149.08 80.05L151.60 80.82L154.13 81.60L156.66 82.40L159.18 83.21L161.71 84.04L164.24 84.88L166.76 85.74L169.29 86.61L171.82 87.50L174.34 88.41L176.87 89.34L179.40 90.28L181.92 91.25L184.45 92.23L186.97 93.23L189.50 94.25L192.03 95.29L194.55 96.35L197.08 97.43L199.61 98.53L202.13 99.66L204.66 100.80L207.19 101.97L209.71 103.16L212.24 104.38L214.77 105.62L217.29 106.88L219.82 108.17L222.35 109.48L224.87 110.83L227.40 112.19L229.93 113.59L232.45 115.01L234.98 116.46L237.50 117.94L240.03 119.45L242.56 120.99L245.08 122.57L247.61 124.17L250.14 125.80L252.66 127.47L255.19 129.18L257.72 130.91L260.24 132.69L262.77 134.50L265.30 136.34L267.82 138.23L270.35 140.15L272.88 142.11L275.40 144.11L277.93 146.15L280.46 148.24L282.98 150.36L285.51 152.53L288.03 154.75L290.56 157.01L293.09 159.32L295.61 161.67L298.14 164.08L300.67 166.53L303.19 169.04L305.72 171.59L308.25 174.20L310.77 176.86L313.30 179.58L315.83 182.36L318.35 185.19L320.88 188.08L323.41 191.03L325.93 194.04L328.46 197.12L330.99 200.26L333.51 203.46L336.04 206.73L338.56 210.07L341.09 213.48L343.62 216.96L346.14 220.51L348.67 224.14L351.20 227.84L353.72 231.62L356.25 235.47L358.78 239.41L361.30 243.43L363.83 247.53L366.36 251.72L368.88 256.00L371.41 260.36L373.94 264.82L376.46 269.36L378.99 274.01L381.52 278.74L384.04 283.58L386.57 288.52L389.09 293.56L391.62 298.70L394.15 303.95L396.67 309.31L399.20 314.78L401.73 320.36L404.25 326.06L406.78 331.88L409.31 337.81L411.83 343.87L414.36 350.05L416.89 356.36L419.41 362.80L421.94 369.37L424.47 376.07L426.99 382.91L429.52 389.89L432.05 397.01L434.57 404.28" stroke="#ee4c36" stroke-width="2.40" fill="none" stroke-linejoin="round" clip-path="url(#c)"/>
<circle cx="103.60" cy="68.42" r="4.35" fill="#ee4c36"/>
<circle cx="166.76" cy="85.74" r="4.35" fill="#ee4c36"/>
<circle cx="229.92" cy="113.59" r="4.35" fill="#ee4c36"/>
<circle cx="293.09" cy="159.32" r="4.35" fill="#ee4c36"/>
<circle cx="356.25" cy="235.47" r="4.35" fill="#ee4c36"/>
<circle cx="419.41" cy="362.80" r="4.35" fill="#ee4c36"/>
<text x="93.0" y="23.8" font-size="22.4" text-anchor="end" textLength="11.8" lengthAdjust="spacingAndGlyphs">1</text>
<text x="42.3" y="83.92" font-size="22.0" textLength="24.2" lengthAdjust="spacingAndGlyphs">10</text>
<path d="M68.2 71.33H79.6" stroke="#000" stroke-width="0.9" fill="none"/>
<text x="82.3" y="75.92" font-size="16.8" textLength="9.4" lengthAdjust="spacingAndGlyphs">1</text>
<text x="42.3" y="141.90" font-size="22.0" textLength="24.2" lengthAdjust="spacingAndGlyphs">10</text>
<path d="M68.2 129.30H79.6" stroke="#000" stroke-width="0.9" fill="none"/>
<text x="82.3" y="133.90" font-size="16.8" textLength="9.4" lengthAdjust="spacingAndGlyphs">2</text>
<text x="42.3" y="199.88" font-size="22.0" textLength="24.2" lengthAdjust="spacingAndGlyphs">10</text>
<path d="M68.2 187.28H79.6" stroke="#000" stroke-width="0.9" fill="none"/>
<text x="82.3" y="191.88" font-size="16.8" textLength="9.4" lengthAdjust="spacingAndGlyphs">3</text>
<text x="42.3" y="257.85" font-size="22.0" textLength="24.2" lengthAdjust="spacingAndGlyphs">10</text>
<path d="M68.2 245.25H79.6" stroke="#000" stroke-width="0.9" fill="none"/>
<text x="82.3" y="249.85" font-size="16.8" textLength="9.4" lengthAdjust="spacingAndGlyphs">4</text>
<text x="42.3" y="315.82" font-size="22.0" textLength="24.2" lengthAdjust="spacingAndGlyphs">10</text>
<path d="M68.2 303.22H79.6" stroke="#000" stroke-width="0.9" fill="none"/>
<text x="82.3" y="307.82" font-size="16.8" textLength="9.4" lengthAdjust="spacingAndGlyphs">5</text>
<text x="42.3" y="373.80" font-size="22.0" textLength="24.2" lengthAdjust="spacingAndGlyphs">10</text>
<path d="M68.2 361.20H79.6" stroke="#000" stroke-width="0.9" fill="none"/>
<text x="82.3" y="365.80" font-size="16.8" textLength="9.4" lengthAdjust="spacingAndGlyphs">6</text>
<text x="91.70" y="388.3" font-size="22.0" textLength="23.6" lengthAdjust="spacingAndGlyphs">20</text>
<text x="218.02" y="388.3" font-size="22.0" textLength="23.6" lengthAdjust="spacingAndGlyphs">25</text>
<text x="344.35" y="388.3" font-size="22.0" textLength="23.6" lengthAdjust="spacingAndGlyphs">30</text>
<text x="470.67" y="388.3" font-size="22.0" textLength="23.6" lengthAdjust="spacingAndGlyphs">35</text>
<text x="597.00" y="388.3" font-size="22.0" textLength="23.6" lengthAdjust="spacingAndGlyphs">40</text>
<text transform="translate(23.4 189.6) rotate(-90)" font-size="21" text-anchor="middle" textLength="39.6" lengthAdjust="spacingAndGlyphs">BEP</text>
<text x="314.0" y="421.5" font-size="21.5" font-style="italic" textLength="15.4" lengthAdjust="spacingAndGlyphs">P</text>
<text x="328.3" y="424.8" font-size="14.5">t</text>
<text x="342.6" y="421.6" font-size="21.5" textLength="56.2" lengthAdjust="spacingAndGlyphs">[dBm]</text>
<text x="133.5" y="171.7" font-size="19.8" font-style="italic" textLength="17.5" lengthAdjust="spacingAndGlyphs">N</text>
<path d="M159.80 164.60H174.30M159.80 168.70H174.30" stroke="#000" stroke-width="0.95" fill="none"/>
<text x="181.2" y="171.70" font-size="20.3" textLength="21.7" lengthAdjust="spacingAndGlyphs">16</text>
<path d="M159.80 186.75H174.30M159.80 190.85H174.30" stroke="#000" stroke-width="0.95" fill="none"/>
<text x="181.2" y="193.85" font-size="20.3" textLength="21.7" lengthAdjust="spacingAndGlyphs">32</text>
<path d="M159.80 208.90H174.30M159.80 213.00H174.30" stroke="#000" stroke-width="0.95" fill="none"/>
<text x="181.2" y="216.00" font-size="20.3" textLength="21.7" lengthAdjust="spacingAndGlyphs">64</text>
<path d="M159.80 231.05H174.30M159.80 235.15H174.30" stroke="#000" stroke-width="0.95" fill="none"/>
<text x="181.2" y="238.15" font-size="20.3" textLength="32.5" lengthAdjust="spacingAndGlyphs">128</text>
<path d="M159.80 253.20H174.30M159.80 257.30H174.30" stroke="#000" stroke-width="0.95" fill="none"/>
<text x="181.2" y="260.30" font-size="20.3" textLength="32.5" lengthAdjust="spacingAndGlyphs">256</text>
<rect x="114.05" y="295.5" width="115.2" height="60.8" fill="#fff" fill-opacity="0.85" stroke="#000" stroke-width="1.0"/>
<path d="M117.9 312.1H141.8" stroke="#000" stroke-width="2.5" fill="none"/>
<path d="M117.9 339.4H141.8" stroke="#ee4c36" stroke-width="2.5" fill="none"/>
<text x="149.0" y="316.80" font-size="21" font-style="italic" textLength="13.2" lengthAdjust="spacingAndGlyphs">α</text>
<path d="M170.00 309.70H184.80M170.00 313.80H184.80" stroke="#000" stroke-width="0.95" fill="none"/>
<text x="192" y="316.80" font-size="20.3" textLength="10.85" lengthAdjust="spacingAndGlyphs">0</text>
<text x="149.0" y="344.30" font-size="21" font-style="italic" textLength="13.2" lengthAdjust="spacingAndGlyphs">α</text>
<path d="M170.00 337.20H184.80M170.00 341.30H184.80" stroke="#000" stroke-width="0.95" fill="none"/>
<text x="192" y="344.30" font-size="20.3" textLength="28.8" lengthAdjust="spacingAndGlyphs">0.3</text>
</svg></body></html>
